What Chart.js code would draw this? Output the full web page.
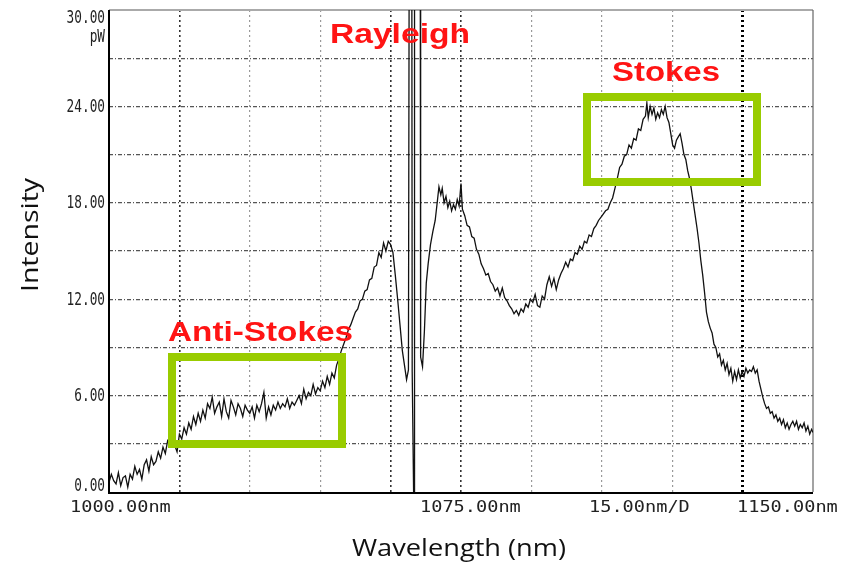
<!DOCTYPE html>
<html>
<head>
<meta charset="utf-8">
<script src="https://cdn.jsdelivr.net/npm/chart.js@4.4.0/dist/chart.umd.min.js"></script>
<style>
  html, body { margin: 0; padding: 0; background: #fff; }
  #wrap { width: 841px; height: 567px; }
</style>
</head>
<body>
<div id="wrap"><canvas id="myChart" width="841" height="567"></canvas></div>
<script>
// spectrum (nm, pW); 40 = line runs off the top of the scale
var wavelength = [
  1000.0,1000.5,1001.0,1001.5,1002.0,1002.5,1003.0,1003.5,1004.0,1004.5,
  1005.0,1005.5,1006.0,1006.5,1007.0,1007.5,1008.0,1008.5,1009.0,1009.5,
  1010.0,1010.5,1011.0,1011.5,1012.0,1012.5,1013.0,1013.5,1014.0,1014.5,
  1015.0,1015.5,1016.0,1016.5,1017.0,1017.5,1018.0,1018.5,1019.0,1019.5,
  1020.0,1020.5,1021.0,1021.5,1022.0,1022.5,1023.0,1023.5,1024.0,1024.5,
  1025.0,1025.5,1026.0,1026.5,1027.0,1027.5,1028.0,1028.5,1029.0,1029.5,
  1030.0,1030.5,1031.0,1031.5,1032.0,1032.5,1033.0,1033.5,1034.0,1034.5,
  1035.0,1035.5,1036.0,1036.5,1037.0,1037.5,1038.0,1038.5,1039.0,1039.5,
  1040.0,1040.5,1041.0,1041.5,1042.0,1042.5,1043.0,1043.5,1044.0,1044.5,
  1045.0,1045.5,1046.0,1046.5,1047.0,1047.5,1048.0,1048.5,1049.0,1049.5,
  1050.0,1050.5,1051.0,1051.5,1052.0,1052.5,1053.0,1053.5,1054.0,1054.5,
  1055.0,1055.5,1056.0,1056.5,1057.0,1057.5,1058.0,1058.5,1059.0,1059.5,
  1060.0,1060.5,1061.0,1061.5,1062.0,1062.5,1063.0,1063.4,1063.8,1064.0,
  1064.5,1064.6,1064.9,1065.0,1065.1,1066.3,1066.4,1066.8,1067.2,1067.6,
  1068.0,1068.5,1069.0,1069.5,1070.0,1070.3,1070.7,1071.0,1071.4,1071.8,
  1072.2,1072.6,1073.0,1073.4,1073.8,1074.2,1074.6,1075.0,1075.3,1075.8,
  1076.3,1076.8,1077.3,1077.8,1078.3,1078.8,1079.3,1079.8,1080.3,1080.8,
  1081.3,1081.8,1082.3,1082.8,1083.3,1083.8,1084.3,1084.8,1085.3,1085.8,
  1086.3,1086.8,1087.3,1087.8,1088.3,1088.8,1089.3,1089.8,1090.3,1090.8,
  1091.3,1091.8,1092.3,1092.8,1093.3,1093.8,1094.3,1094.8,1095.3,1095.8,
  1096.3,1096.8,1097.3,1097.8,1098.3,1098.8,1099.3,1099.8,1100.3,1100.8,
  1101.3,1101.8,1102.3,1102.8,1103.3,1103.8,1104.3,1104.8,1105.3,1105.8,
  1106.3,1106.8,1107.3,1107.8,1108.3,1108.8,1109.3,1109.8,1110.3,1110.8,
  1111.3,1111.8,1112.3,1112.8,1113.3,1113.8,1114.3,1114.6,1114.9,1115.3,
  1115.7,1116.1,1116.5,1116.9,1117.3,1117.7,1118.1,1118.5,1118.9,1119.3,
  1119.7,1120.1,1120.5,1120.9,1121.3,1121.7,1122.1,1122.5,1122.9,1123.3,
  1123.7,1124.1,1124.5,1124.9,1125.3,1125.7,1126.1,1126.5,1126.9,1127.3,
  1127.7,1128.1,1128.5,1128.9,1129.3,1129.7,1130.1,1130.5,1130.9,1131.3,
  1131.7,1132.1,1132.5,1132.9,1133.3,1133.7,1134.1,1134.5,1134.9,1135.3,
  1135.7,1136.1,1136.5,1136.9,1137.3,1137.7,1138.1,1138.5,1138.9,1139.3,
  1139.7,1140.1,1140.5,1140.9,1141.3,1141.7,1142.1,1142.5,1142.9,1143.3,
  1143.7,1144.1,1144.5,1144.9,1145.3,1145.7,1146.1,1146.5,1146.9,1147.3,
  1147.7,1148.1,1148.5,1148.9,1149.3,1149.7,1150.0
];
var intensity = [
  0.6,1.1,0.7,0.5,1.2,0.4,0.9,1.0,0.3,1.1,
  0.8,1.6,1.1,1.4,0.8,1.7,2.0,1.3,2.2,1.7,
  1.9,2.5,2.1,2.8,2.4,3.2,3.0,3.4,2.9,2.5,
  3.6,3.3,4.0,3.6,4.3,3.9,4.7,4.2,4.9,4.4,
  5.1,4.6,5.5,5.2,5.9,4.9,5.3,5.6,4.7,5.8,
  5.0,4.6,5.7,5.3,4.8,5.5,5.2,4.7,5.4,5.1,
  4.9,5.3,4.6,5.4,5.0,5.5,6.2,4.6,5.3,4.8,
  5.4,5.1,5.6,5.2,5.5,5.3,5.8,5.2,5.6,5.4,
  5.7,6.0,5.5,6.4,5.8,6.2,6.0,6.7,6.1,6.5,
  6.3,6.9,6.5,7.2,6.7,7.4,7.1,7.9,8.3,8.8,
  9.2,9.6,10.1,10.4,10.8,11.2,11.4,11.9,12.0,12.5,
  12.6,13.2,13.3,14.0,14.1,14.9,14.6,15.5,15.0,15.6,
  15.4,14.9,13.5,12.0,10.4,8.8,7.8,7.0,7.6,40,
  40,7.5,0,0,40,40,8.4,7.8,10.0,13.0,
  14.2,15.4,16.2,16.9,18.2,19.0,18.5,18.9,18.0,18.4,
  17.7,18.1,17.5,17.9,17.6,18.2,17.8,19.2,17.6,17.2,
  16.6,16.5,15.9,15.8,15.1,14.8,14.2,13.9,13.5,13.6,
  13.1,12.9,12.5,12.7,12.2,12.7,12.1,11.9,11.6,11.4,
  11.1,11.3,11.0,11.4,11.2,11.7,11.5,12.0,11.8,12.3,
  11.6,11.5,12.2,12.0,12.9,13.4,12.8,13.3,12.6,13.2,
  13.6,13.9,14.3,14.0,14.5,14.4,14.9,14.8,15.3,15.1,
  15.6,15.5,16.0,15.9,16.4,16.6,16.9,17.1,17.3,17.5,
  17.6,18.0,18.3,18.9,19.5,20.2,20.4,20.9,21.0,21.6,
  21.4,22.0,21.9,22.6,22.5,23.2,23.4,24.2,23.3,24.0,
  23.5,23.9,23.2,23.6,23.3,23.8,23.5,24.0,23.3,23.0,
  22.3,21.6,21.4,21.9,22.1,22.3,21.7,21.0,20.7,20.0,
  19.5,18.8,18.0,17.2,16.4,15.5,14.4,13.5,12.4,11.2,
  10.6,10.2,9.9,9.2,9.0,8.4,8.6,7.9,8.2,7.6,
  8.0,7.3,7.7,6.9,7.5,7.0,7.6,7.1,7.5,7.2,
  7.7,7.4,7.6,7.5,7.8,7.4,7.6,6.9,6.4,5.9,
  5.5,5.2,5.3,4.9,5.0,4.6,4.8,4.4,4.6,4.2,
  4.5,4.0,4.3,3.9,4.2,4.4,4.1,4.4,3.9,4.2,
  4.0,4.3,3.8,4.1,3.6,3.9,3.7
];

var yTickValues = [30, 24, 18, 12, 6, 0];
var yTickLabels = ['30.00', '24.00', '18.00', '12.00', '6.00', '0.00'];
var yUnit = 'pW';
var xTickValues = [1000, 1075, 1150];
var xTickLabels = ['1000.00nm', '1075.00nm', '1150.00nm'];
var xDivLabel = '15.00nm/D';
var xTitle = 'Wavelength (nm)';
var yTitle = 'Intensity';
var bands = ['Rayleigh', 'Anti-Stokes', 'Stokes'];

var points = [];
for (let i = 0; i < wavelength.length; i++) {
    points.push({ x: wavelength[i], y: intensity[i] });
}

// draws text squeezed/stretched to a given width
function fitText(ctx, txt, left, cy, w, font, color) {
    ctx.save();
    ctx.font = font;
    ctx.fillStyle = color;
    ctx.textBaseline = 'middle';
    ctx.textAlign = 'left';
    var m = ctx.measureText(txt).width;
    ctx.translate(left, cy);
    ctx.scale(w / m, 1);
    ctx.fillText(txt, 0, 0);
    ctx.restore();
}

function scaledText(ctx, txt, x, cy, sx, font, color, align) {
    ctx.save();
    ctx.font = font;
    ctx.fillStyle = color;
    ctx.textBaseline = 'middle';
    ctx.textAlign = align;
    ctx.translate(x, cy);
    ctx.scale(sx, 1);
    ctx.fillText(txt, 0, 0);
    ctx.restore();
}

var framePlugin = {
    id: 'frame',
    beforeDatasetsDraw: function (chart) {
        var ctx = chart.ctx, a = chart.chartArea;
        ctx.save();
        ctx.strokeStyle = '#aaa';
        ctx.lineWidth = 2;
        ctx.beginPath();
        ctx.moveTo(a.left, a.top); ctx.lineTo(a.right, a.top);
        ctx.stroke();
        ctx.lineWidth = 1.2;
        ctx.strokeStyle = '#666';
        ctx.beginPath();
        ctx.moveTo(a.right, a.top); ctx.lineTo(a.right, a.bottom);
        ctx.stroke();
        ctx.restore();
    },
    afterDatasetsDraw: function (chart) {
        var ctx = chart.ctx, a = chart.chartArea;
        var xs = chart.scales.x, ys = chart.scales.y;
        ctx.save();
        ctx.strokeStyle = '#000';
        ctx.lineWidth = 2;
        ctx.beginPath();
        ctx.moveTo(a.left, a.top); ctx.lineTo(a.left, a.bottom + 1); ctx.lineTo(a.right, a.bottom + 1);
        ctx.stroke();

        // green boxes
        ctx.strokeStyle = '#99cc00';
        ctx.lineWidth = 8;
        ctx.strokeRect(172, 357, 170, 87);
        ctx.strokeRect(587, 97, 170, 85);
        ctx.restore();

        // tick labels
        var mono = '"DejaVu Sans Mono", monospace';
        for (let i = 0; i < yTickValues.length; i++) {
            var py = ys.getPixelForValue(yTickValues[i]);
            if (py < a.top + 8) py = a.top + 8;
            if (py > a.bottom - 6) py = a.bottom - 6;
            scaledText(ctx, yTickLabels[i], 105, py + 1, 0.75, '17px ' + mono, '#222', 'right');
        }
        scaledText(ctx, yUnit, 105, 38, 0.75, '17px ' + mono, '#222', 'right');
        var xOff = [-39, -41, -76];
        for (let i = 0; i < xTickValues.length; i++) {
            var px = xs.getPixelForValue(xTickValues[i]) + xOff[i];
            scaledText(ctx, xTickLabels[i], px, 508, 1.24, '15px ' + mono, '#222', 'left');
        }
        scaledText(ctx, xDivLabel, 589, 508, 1.24, '15px ' + mono, '#222', 'left');

        // axis titles
        fitText(ctx, xTitle, 352, 549, 214, '23px "Open Sans", sans-serif', '#111');
        ctx.save();
        ctx.translate(31, 292);
        ctx.rotate(-Math.PI / 2);
        fitText(ctx, yTitle, 0, 0, 114, '23px "Open Sans", sans-serif', '#111');
        ctx.restore();

        // band names
        var bold = 'bold 27px "Liberation Sans", Arial, sans-serif';
        fitText(ctx, bands[0], 330, 36, 140, bold, '#ff1414');
        fitText(ctx, bands[1], 168, 334, 185, bold, '#ff1414');
        fitText(ctx, bands[2], 612, 74, 108, bold, '#ff1414');
    }
};

function xGridColor(c) {
    var v = c.tick.value;
    if (v === 1000 || v === 1150) return 'rgba(0,0,0,0)';
    if (v === 1135) return '#000';
    if (v === 1015 || v === 1075 || v === 1060) return '#333';
    return '#999';
}
function xGridWidth(c) {
    var v = c.tick.value;
    if (v === 1135) return 3;
    if (v === 1015 || v === 1075 || v === 1060) return 1.6;
    return 1.2;
}

const ctx = document.getElementById('myChart');
new Chart(ctx, {
    type: 'line',
    data: {
        datasets: [{
            data: points,
            borderColor: '#111',
            borderWidth: 1.3,
            pointRadius: 0,
            tension: 0,
            fill: false
        }]
    },
    options: {
        responsive: false,
        animation: false,
        devicePixelRatio: 1,
        layout: { padding: { left: 109, right: 28, top: 10, bottom: 75 } },
        plugins: { legend: { display: false }, tooltip: { enabled: false } },
        scales: {
            x: {
                type: 'linear', min: 1000, max: 1150,
                ticks: { display: false, stepSize: 15 },
                grid: { drawTicks: false, color: xGridColor, lineWidth: xGridWidth },
                border: { display: false, dash: [2, 3] },
                afterFit: function (s) { s.height = 0; }
            },
            y: {
                min: 0, max: 30,
                ticks: { display: false, stepSize: 3 },
                grid: {
                    drawTicks: false,
                    color: function (c) { return (c.tick.value === 0 || c.tick.value === 30) ? 'rgba(0,0,0,0)' : '#555'; },
                    lineWidth: 1.2
                },
                border: { display: false, dash: [4, 2, 1, 2] },
                afterFit: function (s) { s.width = 0; }
            }
        }
    },
    plugins: [framePlugin]
});
</script>
</body>
</html>
